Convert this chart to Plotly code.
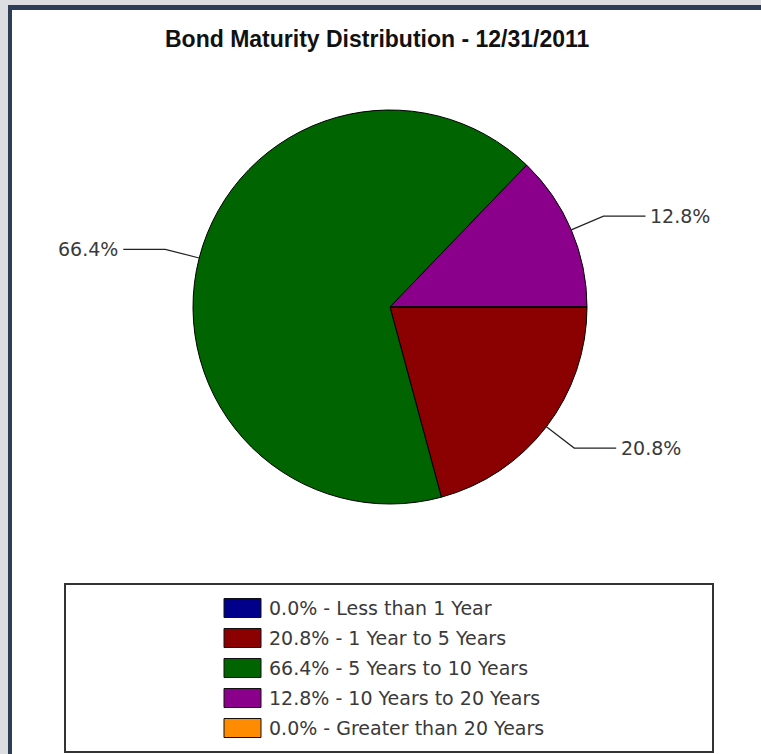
import math
import plotly.graph_objects as go

# ---- data ----
categories = ["Less than 1 Year", "1 Year to 5 Years", "5 Years to 10 Years",
              "10 Years to 20 Years", "Greater than 20 Years"]
values = [0.0, 20.8, 66.4, 12.8, 0.0]
colors = ["#00008B", "#8B0000", "#006400", "#8B008B", "#FF8C00"]
title_text = "Bond Maturity Distribution - 12/31/2011"

# ---- layout constants (pixels) ----
W, H = 761, 754
CX, CY, R = 390, 307, 197
FONT = "DejaVu Sans"
TXT = "#3a3a3a"


def px(x):
    return x / W


def py(y):
    return 1 - y / H


fig = go.Figure()
fig.add_trace(go.Pie(
    labels=categories, values=values, sort=False,
    direction="clockwise", rotation=90,
    marker=dict(colors=colors, line=dict(color="black", width=1)),
    textinfo="none", showlegend=False,
    domain=dict(x=[px(CX - R), px(CX + R)], y=[py(CY + R), py(CY - R)]),
))

shapes = []
annotations = []

# frame
shapes.append(dict(type="rect", xref="paper", yref="paper", x0=0, x1=1, y0=py(5), y1=1,
                   fillcolor="#dcdde0", line=dict(width=0), layer="above"))
shapes.append(dict(type="rect", xref="paper", yref="paper", x0=0, x1=px(8), y0=0, y1=1,
                   fillcolor="#dcdde0", line=dict(width=0), layer="above"))
shapes.append(dict(type="rect", xref="paper", yref="paper", x0=px(8), x1=1, y0=py(10), y1=py(5),
                   fillcolor="#2d3d58", line=dict(width=0), layer="above"))
shapes.append(dict(type="rect", xref="paper", yref="paper", x0=px(8), x1=px(12), y0=0, y1=py(5),
                   fillcolor="#2d3d58", line=dict(width=0), layer="above"))

# leader lines + labels
total = sum(values)
cum = 0.0
for v in values:
    if v > 0:
        mid = math.radians(90 + 360 * (cum + v / 2) / total)
        s, c = math.sin(mid), -math.cos(mid)
        ex, ey = CX + R * s, CY + R * c
        bx, by = CX + (R + 35) * s, CY + (R + 35) * c
        side = 1 if s >= 0 else -1
        hx = bx + side * 42
        shapes.append(dict(type="path", xref="paper", yref="paper",
                           path=f"M {px(ex)},{py(ey)} L {px(bx)},{py(by)} L {px(hx)},{py(by)}",
                           line=dict(color="#222222", width=1.2)))
        annotations.append(dict(xref="paper", yref="paper", x=px(hx + side * 3), y=py(by),
                                text=f"{v:.1f}%", showarrow=False,
                                xanchor="left" if side > 0 else "right", yanchor="middle",
                                font=dict(family=FONT, size=19, color=TXT)))
    cum += v

# title
annotations.append(dict(xref="paper", yref="paper", x=px(377), y=py(39), text=f"<b>{title_text}</b>",
                        showarrow=False, xanchor="center", yanchor="middle",
                        font=dict(family="Liberation Sans", size=23, color="#111111")))

# legend box
shapes.append(dict(type="rect", xref="paper", yref="paper", x0=px(65), x1=px(713), y0=py(752), y1=py(584),
                   line=dict(color="#333333", width=2), fillcolor="rgba(0,0,0,0)"))
for i, (cat, v, col) in enumerate(zip(categories, values, colors)):
    yc = 608 + 30 * i
    shapes.append(dict(type="rect", xref="paper", yref="paper", x0=px(224), x1=px(261),
                       y0=py(yc + 9.5), y1=py(yc - 9.5), fillcolor=col,
                       line=dict(color="#111111", width=1)))
    annotations.append(dict(xref="paper", yref="paper", x=px(267), y=py(yc),
                            text=f"{v:.1f}% - {cat}", showarrow=False,
                            xanchor="left", yanchor="middle",
                            font=dict(family=FONT, size=19, color=TXT)))

fig.update_layout(
    width=W, height=H, autosize=False,
    margin=dict(l=0, r=0, t=0, b=0, pad=0),
    paper_bgcolor="white", plot_bgcolor="white",
    shapes=shapes, annotations=annotations,
    showlegend=False,
)

fig.write_html("out.html", config={"displayModeBar": False},
               post_script="document.body.style.margin='0';document.body.style.overflow='hidden';")
